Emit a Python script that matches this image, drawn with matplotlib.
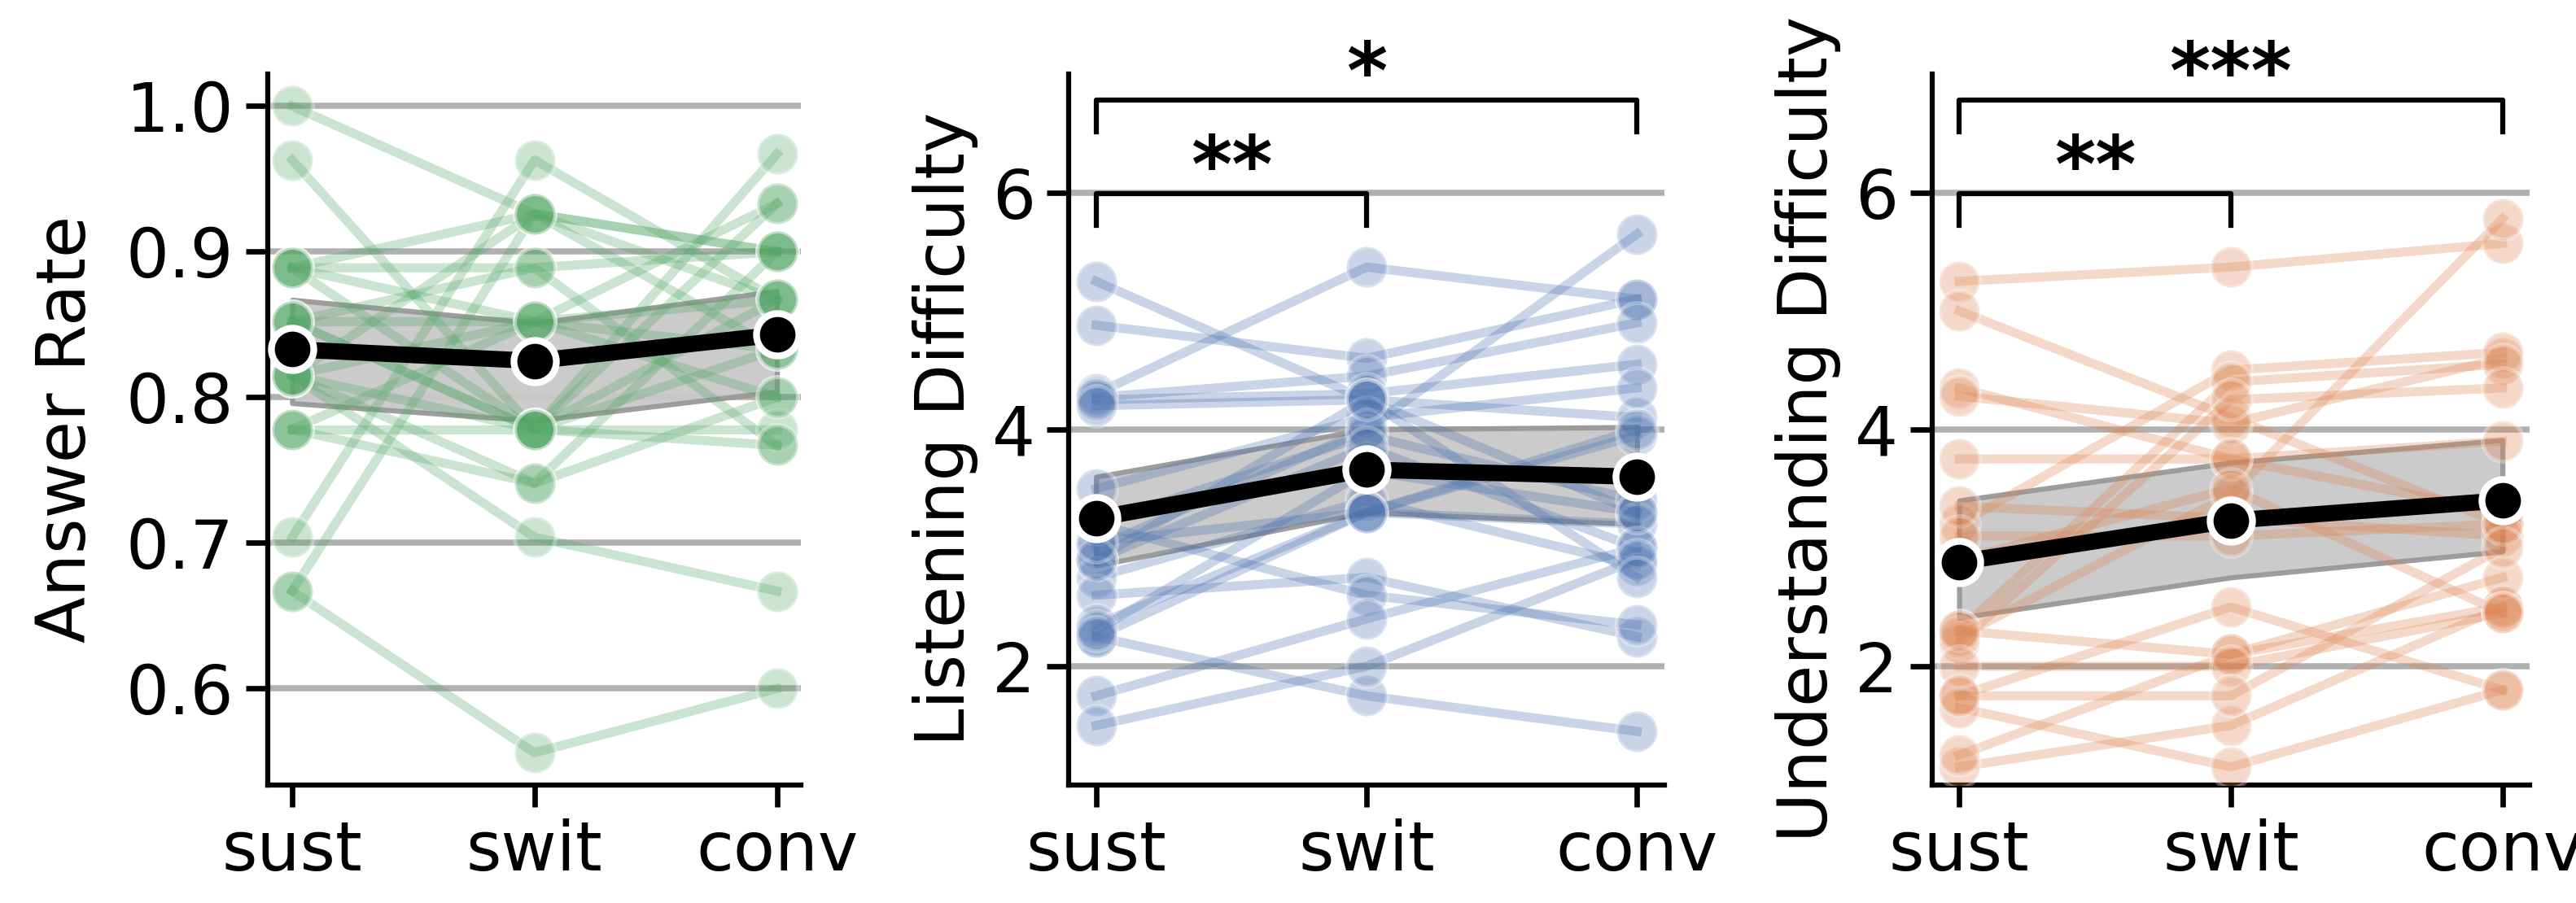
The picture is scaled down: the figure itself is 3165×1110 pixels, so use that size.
import numpy as np
import matplotlib.pyplot as plt

conditions = ['sust', 'swit', 'conv']

# answer rate per subject
answer_sust = [1.000, 0.963, 0.704, 0.667, 0.815, 0.667, 0.889, 0.889, 0.889, 0.852, 0.852,
               0.852, 0.815, 0.815, 0.778, 0.778, 0.778, 0.852, 0.815, 0.889, 0.815]
answer_swit = [0.926, 0.778, 0.963, 0.556, 0.704, 0.926, 0.926, 0.889, 0.852, 0.889, 0.852,
               0.778, 0.741, 0.778, 0.778, 0.741, 0.852, 0.778, 0.852, 0.778, 0.926]
answer_conv = [0.867, 0.967, 0.867, 0.600, 0.667, 0.900, 0.900, 0.900, 0.933, 0.767, 0.867,
               0.933, 0.800, 0.833, 0.778, 0.900, 0.833, 0.767, 0.800, 0.867, 0.833]
answer_mean = [0.833, 0.825, 0.843]
answer_lo = [0.796, 0.784, 0.804]
answer_hi = [0.867, 0.851, 0.873]

# listening difficulty per subject
listen_sust = [5.25, 4.88, 4.30, 4.27, 4.25, 4.20, 3.50, 3.20, 3.00, 2.90, 2.75,
               2.60, 3.20, 2.35, 2.25, 2.25, 1.75, 1.50, 2.90, 3.05, 2.30]
listen_swit = [4.25, 4.60, 5.37, 4.45, 4.30, 4.25, 4.10, 3.95, 4.00, 3.85, 3.40,
               2.75, 2.60, 3.30, 3.30, 1.75, 2.40, 2.00, 4.25, 3.30, 3.65]
listen_conv = [3.30, 5.10, 5.10, 4.90, 4.55, 4.10, 4.35, 3.40, 5.65, 3.00, 2.85,
               2.25, 2.35, 3.95, 3.20, 1.45, 3.00, 2.90, 2.75, 4.00, 3.30]
listen_mean = [3.25, 3.66, 3.60]
listen_lo = [2.85, 3.30, 3.20]
listen_hi = [3.60, 4.00, 4.02]

# understanding difficulty per subject
under_sust = [5.25, 5.00, 4.35, 4.28, 3.75, 3.20, 2.30, 2.20, 2.25, 1.75, 1.15,
              1.25, 1.65, 2.30, 2.00, 3.35, 3.10, 2.90, 1.75]
under_swit = [5.37, 4.10, 3.75, 4.05, 3.75, 4.50, 4.40, 4.25, 3.45, 2.50, 1.50,
              2.10, 1.15, 2.10, 2.00, 3.25, 3.10, 3.50, 1.75]
under_conv = [5.57, 3.20, 3.30, 4.60, 3.90, 4.65, 4.55, 4.35, 5.78, 1.80, 2.50,
              2.50, 1.80, 2.75, 2.45, 3.10, 3.20, 2.45, 3.00]
under_mean = [2.88, 3.23, 3.40]
under_lo = [2.41, 2.75, 2.97]
under_hi = [3.40, 3.72, 3.91]

# significance brackets: (from, to, stars)
listen_sig = [(0, 1, '**'), (0, 2, '*')]
under_sig = [(0, 1, '**'), (0, 2, '***')]

plt.rcParams['font.family'] = 'DejaVu Sans'
plt.rcParams['font.size'] = 20

fig = plt.figure(figsize=(10.55, 3.70), dpi=300)
ax1 = fig.add_axes([0.104, 0.131, 0.207, 0.787])
ax2 = fig.add_axes([0.415, 0.131, 0.231, 0.787])
ax3 = fig.add_axes([0.750, 0.131, 0.232, 0.787])

x = np.arange(len(conditions))


def draw_panel(ax, sust, swit, conv, mean, lo, hi, color, ylabel):
    for a, b, c in zip(sust, swit, conv):
        ax.plot(x, [a, b, c], '-o', color=color, alpha=0.3, lw=2.7, ms=12,
                mec='white', mew=1.2, zorder=3)
    ax.fill_between(x, lo, hi, facecolor='#c9c9c9', edgecolor='#999999',
                    lw=1.5, alpha=0.95, zorder=2)
    ax.plot(x, mean, '-o', color='black', lw=4.8, ms=12.5, mec='white', mew=2,
            zorder=5)
    ax.set_xticks(x)
    ax.set_xticklabels(conditions)
    ax.set_xlim(-0.1, 2.1)
    ax.set_ylabel(ylabel)
    ax.yaxis.grid(True, color='#b0b0b0', lw=1.8)
    ax.set_axisbelow(True)
    for s in ['top', 'right']:
        ax.spines[s].set_visible(False)
    for s in ['left', 'bottom']:
        ax.spines[s].set_linewidth(1.5)
    ax.tick_params(width=1.6, length=6.5)


def draw_sig(ax, sigs):
    heights = [5.99, 6.78]
    for (a, b, stars), y in zip(sigs, heights):
        ax.plot([a, a, b, b], [y - 0.27, y, y, y - 0.27], color='black',
                lw=1.5, clip_on=False, zorder=6)
        ax.text((a + b) / 2, y - 0.12, stars, ha='center', va='bottom',
                fontsize=23, fontweight='heavy', clip_on=False)


draw_panel(ax1, answer_sust, answer_swit, answer_conv, answer_mean,
           answer_lo, answer_hi, '#55a868', 'Answer Rate')
ax1.set_ylim(0.534, 1.022)
ax1.set_yticks([0.6, 0.7, 0.8, 0.9, 1.0])
ax1.yaxis.labelpad = 8

draw_panel(ax2, listen_sust, listen_swit, listen_conv, listen_mean,
           listen_lo, listen_hi, '#4c72b0', 'Listening Difficulty')
ax2.set_ylim(1, 7)
ax2.set_yticks([2, 4, 6])
draw_sig(ax2, listen_sig)

draw_panel(ax3, under_sust, under_swit, under_conv, under_mean,
           under_lo, under_hi, '#dd8452', 'Understanding Difficulty')
ax3.set_ylim(1, 7)
ax3.set_yticks([2, 4, 6])
draw_sig(ax3, under_sig)

fig.savefig('out.png', dpi=300)
